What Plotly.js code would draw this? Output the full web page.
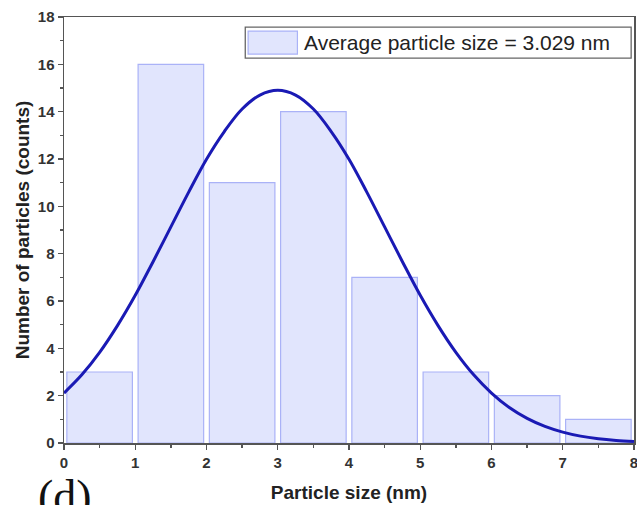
<!DOCTYPE html>
<html>
<head>
<meta charset="utf-8">
<script src="https://cdn.plot.ly/plotly-3.0.1.min.js"></script>
<style>html,body{margin:0;padding:0;background:#fff;}#chart{width:637px;height:505px;}</style>
</head>
<body>
<div id="chart"></div>
<script>
// Histogram bins (bin centers, nm) and counts
const binCenters = [0.5, 1.5, 2.5, 3.5, 4.5, 5.5, 6.5, 7.5];
const counts = [3, 16, 11, 14, 7, 3, 2, 1];
// Fitted distribution curve
const curveX = [0, 0.25, 0.5, 0.75, 1, 1.25, 1.5, 1.75, 2, 2.25, 2.5, 2.75, 3, 3.25, 3.5, 3.75, 4, 4.25, 4.5, 4.75, 5, 5.25, 5.5, 5.75, 6, 6.25, 6.5, 6.75, 7, 7.25, 7.5, 7.75, 8];
const curveY = [2.11, 2.88, 3.83, 4.96, 6.24, 7.66, 9.13, 10.6, 11.99, 13.16, 14.11, 14.7, 14.9, 14.7, 14.11, 13.16, 11.99, 10.6, 9.13, 7.66, 6.24, 4.96, 3.83, 2.88, 2.11, 1.5, 1.04, 0.7, 0.46, 0.29, 0.18, 0.11, 0.065];
const legendLabel = "Average particle size = 3.029 nm";

const barFill = "#e1e5fd";
const barEdge = "#aab2f7";

const traces = [
  {
    type: "bar", x: binCenters, y: counts, width: 0.92,
    name: legendLabel, showlegend: false,
    marker: {color: barFill, line: {color: barEdge, width: 1.2}}
  },
  {
    type: "scatter", mode: "lines", x: curveX, y: curveY,
    line: {color: "#1a1ab4", width: 3, shape: "spline", smoothing: 1},
    showlegend: false
  }
];

const sans = "Liberation Sans, Arial, sans-serif";
const tickFont = {family: sans, size: 15, color: "#333", weight: "bold"};
const layout = {
  width: 637, height: 505,
  margin: {l: 64, r: 3, t: 17, b: 62},
  paper_bgcolor: "#fff", plot_bgcolor: "#fff",
  showlegend: false,
  xaxis: {
    range: [0, 8], tickvals: [0,1,2,3,4,5,6,7,8],
    ticks: "outside", ticklen: 5, tickwidth: 1.3, tickcolor: "#555",
    minor: {dtick: 0.5, ticks: "outside", ticklen: 3, tickcolor: "#555"},
    showline: true, linecolor: "#555", linewidth: 1.5, mirror: true,
    showgrid: false, zeroline: false, ticklabeloverflow: "allow",
    tickfont: tickFont,
    title: {text: "<b>Particle size (nm)</b>", font: {family: sans, size: 19, color: "#222"}, standoff: 16}
  },
  yaxis: {
    range: [0, 18], tickvals: [0,2,4,6,8,10,12,14,16,18],
    ticks: "outside", ticklen: 5, tickwidth: 1.3, tickcolor: "#555",
    minor: {dtick: 1, ticks: "outside", ticklen: 3, tickcolor: "#555"},
    showline: true, linecolor: "#555", linewidth: 1.5, mirror: true,
    showgrid: false, zeroline: false, ticklabeloverflow: "allow",
    tickfont: tickFont,
    title: {text: "<b>Number of particles (counts)</b>", font: {family: sans, size: 19, color: "#222"}, standoff: 3}
  },
  shapes: [
    // legend box
    {type: "rect", xref: "paper", yref: "paper", x0: 0.318, x1: 0.995, y0: 0.9035, y1: 0.976,
     line: {color: "#666", width: 1.3}, fillcolor: "#fff", layer: "above"},
    // legend swatch
    {type: "rect", xref: "paper", yref: "paper", x0: 0.323, x1: 0.4095, y0: 0.913, y1: 0.967,
     line: {color: barEdge, width: 1.2}, fillcolor: barFill, layer: "above"}
  ],
  annotations: [
    {text: legendLabel, xref: "paper", yref: "paper", x: 0.418, y: 0.941,
     xanchor: "left", yanchor: "middle", showarrow: false,
     font: {family: sans, size: 21, color: "#222"}},
    {text: "(d)", xref: "paper", yref: "paper", x: -0.049, y: -0.062,
     xanchor: "left", yanchor: "top", showarrow: false,
     font: {family: "Liberation Serif, Times New Roman, serif", size: 46, color: "#111"}}
  ]
};

Plotly.newPlot("chart", traces, layout, {displayModeBar: false, staticPlot: true});
</script>
</body>
</html>
